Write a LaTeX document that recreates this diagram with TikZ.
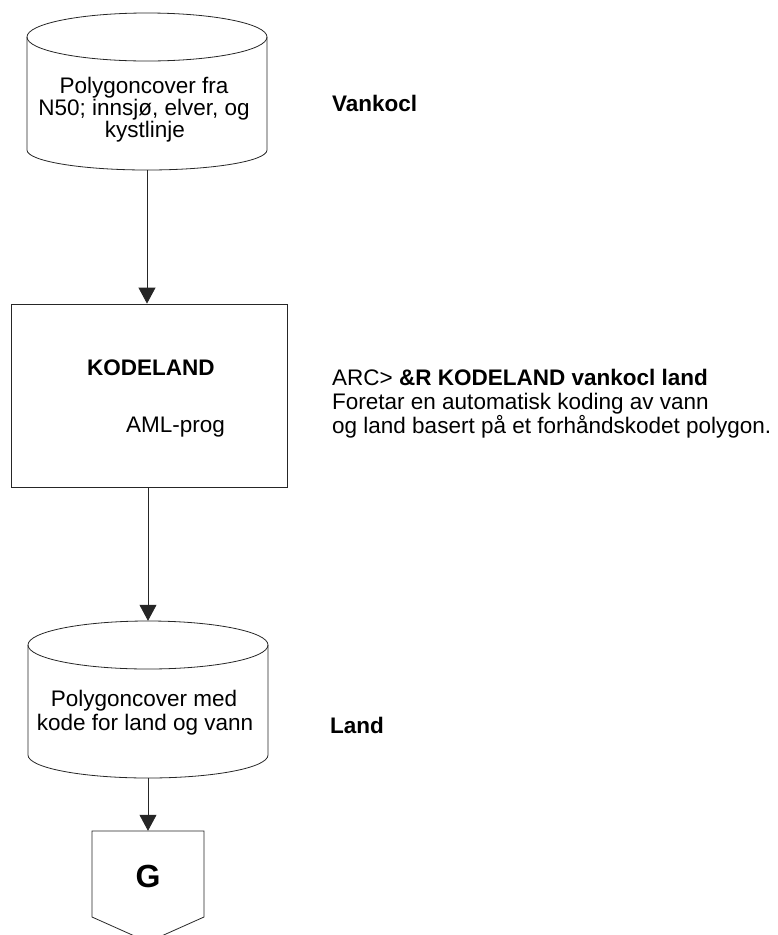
\documentclass[tikz,border=0pt]{standalone}
\usepackage{fontspec}
\setmainfont{Liberation Sans}
\usetikzlibrary{arrows.meta,calc}
\begin{document}
\begin{tikzpicture}[x=1pt,y=-1pt,
  outline/.style={line width=0.8pt, draw=black!85},
  flow/.style={outline, -{Triangle[width=17pt,length=16pt]}},
  holder/.style={draw=none, inner sep=0pt},
  txt/.style={font=\fontsize{22.5}{24}\selectfont, inner sep=0pt},
  ctxt/.style={txt, anchor=base},
  ltxt/.style={txt, anchor=base west},
  btxt/.style={ltxt, font=\bfseries\fontsize{22.5}{24}\selectfont}
]
\useasboundingbox (0,0) rectangle (778,935);

% ---- input cover (cylinder) ----
\node[holder, minimum width=240pt, minimum height=157pt] (vankocl) at (147,91.5) {};
\draw[outline] (147,37) ellipse [x radius=120pt, y radius=24pt];
\draw[outline] (27,37) -- (27,150)
  .. controls (27,161) and (80.8,170) .. (147,170)
  .. controls (213.2,170) and (267,161) .. (267,150) -- (267,37);
\node[ctxt] (v1) at (144,93) {Polygoncover fra};
\node[ctxt] (v2) at (144,115) {N50; innsjø, elver, og};
\node[ctxt] (v3) at (145,137) {kystlinje};
\node[btxt] (vname) at (332,111) {Vankocl};

% ---- processing step ----
\node[outline, draw, minimum width=276pt, minimum height=183pt, inner sep=0pt] (kode) at (149,395.5) {};
\node[btxt] (kname) at (87,375) {KODELAND};
\node[ltxt] (kaml) at (126,432) {AML-prog};
\node[ltxt] (arc1) at (332,385) {ARC> \textbf{\&R KODELAND vankocl land}};
\node[ltxt] (arc2) at (332,409) {Foretar en automatisk koding av vann};
\node[ltxt] (arc3) at (332,433) {og land basert på et forhåndskodet polygon.};

% ---- output cover (cylinder) ----
\node[holder, minimum width=240pt, minimum height=157pt] (land) at (148,699.5) {};
\draw[outline] (148,645) ellipse [x radius=120pt, y radius=24pt];
\draw[outline] (28,645) -- (28,755)
  .. controls (28,767.7) and (81.8,778) .. (148,778)
  .. controls (214.2,778) and (268,767.7) .. (268,755) -- (268,645);
\node[ctxt] (l1) at (144,706) {Polygoncover med};
\node[ctxt] (l2) at (145,730) {kode for land og vann};
\node[btxt] (lname) at (330,733) {Land};

% ---- off-page connector ----
\node[holder, minimum width=112pt, minimum height=111pt] (g) at (148,886.5) {};
\draw[outline] (92,831) -- (204,831) -- (204,917) -- (148,942) -- (92,917) -- cycle;
\node[inner sep=0pt, anchor=base, font=\bfseries\fontsize{32}{32}\selectfont] (gtxt) at (148,887) {G};

% ---- connectors ----
\draw[flow] (vankocl.south) -- (vankocl.south |- kode.north);
\draw[flow] (kode.south -| land.north) -- (land.north);
\draw[flow] (land.south) -- (g.north);
\end{tikzpicture}
\end{document}
